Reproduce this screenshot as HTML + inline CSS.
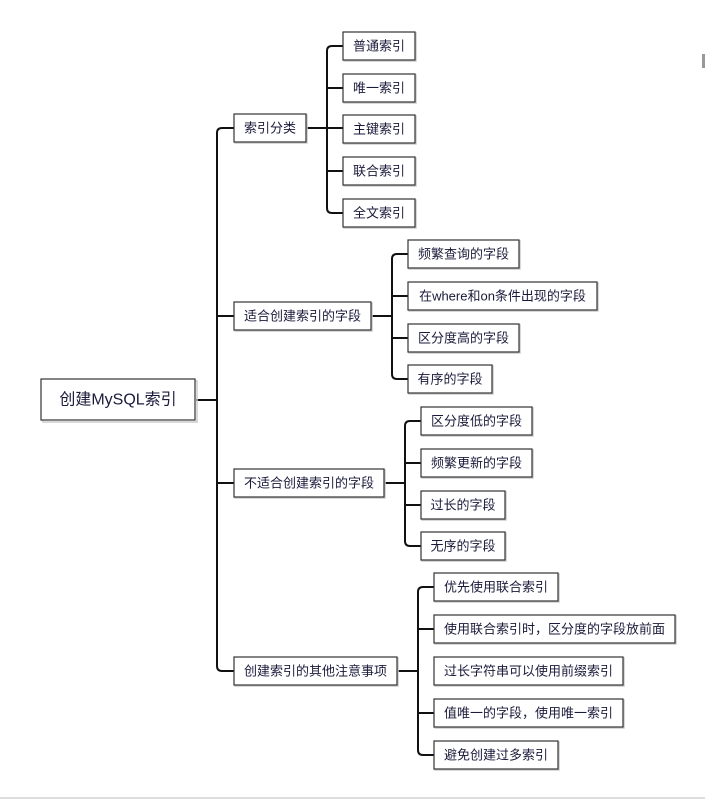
<!DOCTYPE html>
<html><head><meta charset="utf-8"><style>
html,body{margin:0;padding:0;background:#fff;}
svg{display:block}
text{font-family:"Liberation Sans","Noto Sans CJK SC",sans-serif;fill:#1a1a3a;dominant-baseline:central}
.b{fill:#fff;stroke:#333;stroke-width:1.2}
.s{fill:none;stroke:#ccc;stroke-width:1.5}
.l{fill:none;stroke:#111;stroke-width:2}
</style></head><body>
<svg width="705" height="799" viewBox="0 0 705 799" xmlns="http://www.w3.org/2000/svg">
<rect x="702" y="54" width="3" height="14" fill="#999"/>
<line x1="0" y1="798" x2="705" y2="798" stroke="#ddd" stroke-width="2"/>
<path class="l" d="M196 400H217"/>
<path class="l" d="M234 128H222Q217 128 217 133V666Q217 671 222 671H234"/>
<path class="l" d="M217 316H234M217 483H234"/>
<path class="l" d="M306 128H343"/>
<path class="l" d="M343 46H332Q327 46 327 51V208Q327 213 332 213H343M327 88H343M327 171H343"/>
<path class="l" d="M371 316H392"/>
<path class="l" d="M408 254H397Q392 254 392 259V374Q392 379 397 379H408M392 296H408M392 338H408"/>
<path class="l" d="M384 483H405"/>
<path class="l" d="M421 421H410Q405 421 405 426V541Q405 546 410 546H421M405 463H421M405 505H421"/>
<path class="l" d="M397 671H418"/>
<path class="l" d="M434 587H423Q418 587 418 592V750Q418 755 423 755H434M418 629H434M418 713H434"/>

<rect class="s" x="43" y="381" width="154" height="41"/><rect class="b" x="41" y="379" width="154" height="41"/>
<text x="118" y="400" font-size="16" text-anchor="middle">创建MySQL索引</text>

<rect class="s" x="235" y="115" width="72" height="28"/><rect class="b" x="234" y="114" width="72" height="28"/>
<text x="270" y="128" font-size="13" text-anchor="middle">索引分类</text>
<rect class="s" x="235" y="303" width="137" height="28"/><rect class="b" x="234" y="302" width="137" height="28"/>
<text x="302.5" y="316" font-size="13" text-anchor="middle">适合创建索引的字段</text>
<rect class="s" x="235" y="470" width="150" height="28"/><rect class="b" x="234" y="469" width="150" height="28"/>
<text x="309" y="483" font-size="13" text-anchor="middle">不适合创建索引的字段</text>
<rect class="s" x="235" y="658" width="163" height="28"/><rect class="b" x="234" y="657" width="163" height="28"/>
<text x="315.5" y="671" font-size="13" text-anchor="middle">创建索引的其他注意事项</text>

<rect class="s" x="344" y="33" width="72" height="28"/><rect class="b" x="343" y="32" width="72" height="28"/><text x="379" y="46" font-size="13" text-anchor="middle">普通索引</text>
<rect class="s" x="344" y="75" width="72" height="28"/><rect class="b" x="343" y="74" width="72" height="28"/><text x="379" y="88" font-size="13" text-anchor="middle">唯一索引</text>
<rect class="s" x="344" y="116" width="72" height="28"/><rect class="b" x="343" y="115" width="72" height="28"/><text x="379" y="129" font-size="13" text-anchor="middle">主键索引</text>
<rect class="s" x="344" y="158" width="72" height="28"/><rect class="b" x="343" y="157" width="72" height="28"/><text x="379" y="171" font-size="13" text-anchor="middle">联合索引</text>
<rect class="s" x="344" y="200" width="72" height="28"/><rect class="b" x="343" y="199" width="72" height="28"/><text x="379" y="213" font-size="13" text-anchor="middle">全文索引</text>

<rect class="s" x="409" y="241" width="111" height="28"/><rect class="b" x="408" y="240" width="111" height="28"/><text x="463.5" y="254" font-size="13" text-anchor="middle">频繁查询的字段</text>
<rect class="s" x="409" y="283" width="189" height="28"/><rect class="b" x="408" y="282" width="189" height="28"/><text x="502.5" y="296" font-size="13" text-anchor="middle">在where和on条件出现的字段</text>
<rect class="s" x="409" y="325" width="111" height="28"/><rect class="b" x="408" y="324" width="111" height="28"/><text x="463.5" y="338" font-size="13" text-anchor="middle">区分度高的字段</text>
<rect class="s" x="409" y="366" width="84" height="28"/><rect class="b" x="408" y="365" width="84" height="28"/><text x="450" y="379" font-size="13" text-anchor="middle">有序的字段</text>

<rect class="s" x="422" y="408" width="111" height="28"/><rect class="b" x="421" y="407" width="111" height="28"/><text x="476.5" y="421" font-size="13" text-anchor="middle">区分度低的字段</text>
<rect class="s" x="422" y="450" width="111" height="28"/><rect class="b" x="421" y="449" width="111" height="28"/><text x="476.5" y="463" font-size="13" text-anchor="middle">频繁更新的字段</text>
<rect class="s" x="422" y="492" width="84" height="28"/><rect class="b" x="421" y="491" width="84" height="28"/><text x="463" y="505" font-size="13" text-anchor="middle">过长的字段</text>
<rect class="s" x="422" y="533" width="84" height="28"/><rect class="b" x="421" y="532" width="84" height="28"/><text x="463" y="546" font-size="13" text-anchor="middle">无序的字段</text>

<rect class="s" x="435" y="574" width="124" height="28"/><rect class="b" x="434" y="573" width="124" height="28"/><text x="496" y="587" font-size="13" text-anchor="middle">优先使用联合索引</text>
<rect class="s" x="435" y="616" width="241" height="28"/><rect class="b" x="434" y="615" width="241" height="28"/><text x="554.5" y="629" font-size="13" text-anchor="middle">使用联合索引时，区分度的字段放前面</text>
<rect class="s" x="435" y="658" width="189" height="28"/><rect class="b" x="434" y="657" width="189" height="28"/><text x="528.5" y="671" font-size="13" text-anchor="middle">过长字符串可以使用前缀索引</text>
<rect class="s" x="435" y="700" width="189" height="28"/><rect class="b" x="434" y="699" width="189" height="28"/><text x="528.5" y="713" font-size="13" text-anchor="middle">值唯一的字段，使用唯一索引</text>
<rect class="s" x="435" y="742" width="124" height="28"/><rect class="b" x="434" y="741" width="124" height="28"/><text x="496" y="755" font-size="13" text-anchor="middle">避免创建过多索引</text>
</svg>
</body></html>
